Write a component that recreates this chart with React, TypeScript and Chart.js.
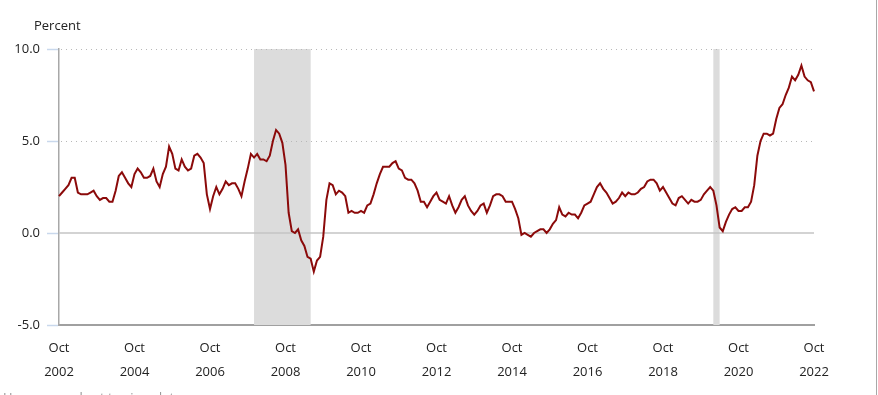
import React, { useEffect, useRef } from "react";
import { Chart, registerables } from "chart.js";

Chart.register(...registerables);

// Monthly 12-month percent change, Oct 2002 .. Oct 2022
const startYear = 2002;
const startMonth = 10;

const values2002 = [2.0, 2.2, 2.4]; // Oct-Dec
const values2003 = [2.6, 3.0, 3.0, 2.2, 2.1, 2.1, 2.1, 2.2, 2.3, 2.0, 1.8, 1.9];
const values2004 = [1.9, 1.7, 1.7, 2.3, 3.1, 3.3, 3.0, 2.7, 2.5, 3.2, 3.5, 3.3];
const values2005 = [3.0, 3.0, 3.1, 3.5, 2.8, 2.5, 3.2, 3.6, 4.7, 4.3, 3.5, 3.4];
const values2006 = [4.0, 3.6, 3.4, 3.5, 4.2, 4.3, 4.1, 3.8, 2.1, 1.3, 2.0, 2.5];
const values2007 = [2.1, 2.4, 2.8, 2.6, 2.7, 2.7, 2.4, 2.0, 2.8, 3.5, 4.3, 4.1];
const values2008 = [4.3, 4.0, 4.0, 3.9, 4.2, 5.0, 5.6, 5.4, 4.9, 3.7, 1.1, 0.1];
const values2009 = [0.0, 0.2, -0.4, -0.7, -1.3, -1.4, -2.1, -1.5, -1.3, -0.2, 1.8, 2.7];
const values2010 = [2.6, 2.1, 2.3, 2.2, 2.0, 1.1, 1.2, 1.1, 1.1, 1.2, 1.1, 1.5];
const values2011 = [1.6, 2.1, 2.7, 3.2, 3.6, 3.6, 3.6, 3.8, 3.9, 3.5, 3.4, 3.0];
const values2012 = [2.9, 2.9, 2.7, 2.3, 1.7, 1.7, 1.4, 1.7, 2.0, 2.2, 1.8, 1.7];
const values2013 = [1.6, 2.0, 1.5, 1.1, 1.4, 1.8, 2.0, 1.5, 1.2, 1.0, 1.2, 1.5];
const values2014 = [1.6, 1.1, 1.5, 2.0, 2.1, 2.1, 2.0, 1.7, 1.7, 1.7, 1.3, 0.8];
const values2015 = [-0.1, 0.0, -0.1, -0.2, 0.0, 0.1, 0.2, 0.2, 0.0, 0.2, 0.5, 0.7];
const values2016 = [1.4, 1.0, 0.9, 1.1, 1.0, 1.0, 0.8, 1.1, 1.5, 1.6, 1.7, 2.1];
const values2017 = [2.5, 2.7, 2.4, 2.2, 1.9, 1.6, 1.7, 1.9, 2.2, 2.0, 2.2, 2.1];
const values2018 = [2.1, 2.2, 2.4, 2.5, 2.8, 2.9, 2.9, 2.7, 2.3, 2.5, 2.2, 1.9];
const values2019 = [1.6, 1.5, 1.9, 2.0, 1.8, 1.6, 1.8, 1.7, 1.7, 1.8, 2.1, 2.3];
const values2020 = [2.5, 2.3, 1.5, 0.3, 0.1, 0.6, 1.0, 1.3, 1.4, 1.2, 1.2, 1.4];
const values2021 = [1.4, 1.7, 2.6, 4.2, 5.0, 5.4, 5.4, 5.3, 5.4, 6.2, 6.8, 7.0];
const values2022 = [7.5, 7.9, 8.5, 8.3, 8.6, 9.1, 8.5, 8.3, 8.2, 7.7]; // Jan-Oct

const seriesValues: number[] = [
  ...values2002, ...values2003, ...values2004, ...values2005, ...values2006,
  ...values2007, ...values2008, ...values2009, ...values2010, ...values2011,
  ...values2012, ...values2013, ...values2014, ...values2015, ...values2016,
  ...values2017, ...values2018, ...values2019, ...values2020, ...values2021,
  ...values2022,
];

const monthNames = ["Jan", "Feb", "Mar", "Apr", "May", "Jun", "Jul", "Aug", "Sep", "Oct", "Nov", "Dec"];

const categories: string[] = seriesValues.map((_, i) => {
  const m0 = startMonth - 1 + i;
  const y = startYear + Math.floor(m0 / 12);
  const m = (m0 % 12) + 1;
  return `${y}-${String(m).padStart(2, "0")}`;
});

const recessionStarts = ["2007-12", "2020-02"];
const recessionEnds = ["2009-06", "2020-04"];

const yTicks = [-5, 0, 5, 10];
const dottedGridValues = [5, 10];
const solidGridValues = [0];

const FONT = "'Open Sans', 'Noto Sans', sans-serif";

const decorPlugin = {
  id: "decor",
  beforeDatasetsDraw(chart: any) {
    const { ctx, chartArea, scales } = chart;
    const xs = scales.x;
    const ys = scales.y;
    ctx.save();
    // recession shading
    ctx.fillStyle = "#dcdcdc";
    recessionStarts.forEach((s, i) => {
      const x1 = xs.getPixelForValue(categories.indexOf(s));
      const x2 = xs.getPixelForValue(categories.indexOf(recessionEnds[i]));
      ctx.fillRect(x1, chartArea.top, x2 - x1, chartArea.bottom - chartArea.top);
    });
    // dotted grid lines
    ctx.strokeStyle = "#b8b8b8";
    ctx.lineWidth = 1;
    ctx.setLineDash([1, 4]);
    dottedGridValues.forEach((v) => {
      const y = Math.round(ys.getPixelForValue(v)) + 0.5;
      ctx.beginPath();
      ctx.moveTo(chartArea.left + 2, y);
      ctx.lineTo(chartArea.right, y);
      ctx.stroke();
    });
    ctx.setLineDash([]);
    ctx.strokeStyle = "#c4c4c4";
    ctx.lineWidth = 1.5;
    solidGridValues.forEach((v) => {
      const y = ys.getPixelForValue(v);
      ctx.beginPath();
      ctx.moveTo(chartArea.left, y);
      ctx.lineTo(chartArea.right, y);
      ctx.stroke();
    });
    ctx.restore();
  },
  afterDraw(chart: any) {
    const { ctx } = chart;
    ctx.save();
    ctx.fillStyle = "#222";
    ctx.font = `13px ${FONT}`;
    ctx.textAlign = "left";
    ctx.textBaseline = "middle";
    ctx.fillText("Percent", 34, 26);
    ctx.restore();
  },
};

export default function App() {
  const canvasRef = useRef<HTMLCanvasElement | null>(null);

  useEffect(() => {
    if (!canvasRef.current) return;
    const chart = new Chart(canvasRef.current, {
      type: "line",
      data: {
        labels: categories,
        datasets: [
          {
            data: seriesValues,
            borderColor: "#8b0a0a",
            borderWidth: 2,
            pointRadius: 0,
            tension: 0,
            fill: false,
          },
        ],
      },
      options: {
        animation: false,
        responsive: false,
        devicePixelRatio: 1,
        layout: { padding: { left: 0, right: 64, top: 49, bottom: 0 } },
        plugins: { legend: { display: false }, tooltip: { enabled: false } },
        scales: {
          x: {
            type: "category",
            offset: false,
            grid: { display: false, drawTicks: false },
            border: { display: true, color: "#a0a0a0", width: 2 },
            afterFit: (s: any) => {
              s.height = 70;
            },
            ticks: {
              autoSkip: false,
              maxRotation: 0,
              minRotation: 0,
              padding: 11,
              color: "#222",
              font: { family: FONT, size: 13, lineHeight: 1.85 },
              callback: (_v: any, idx: number) => {
                if (idx % 24 !== 0) return null;
                const lab = categories[idx];
                const m = parseInt(lab.slice(5), 10);
                return [monthNames[m - 1], lab.slice(0, 4)];
              },
            },
          },
          y: {
            min: -5,
            max: 10,
            afterFit: (s: any) => {
              s.width = 59;
            },
            afterBuildTicks: (s: any) => {
              s.ticks = yTicks.map((v) => ({ value: v }));
            },
            grid: {
              drawOnChartArea: false,
              drawTicks: true,
              tickLength: 12,
              tickColor: "#c9d8ec",
              tickWidth: 1.5,
            },
            border: { display: true, color: "#a8a8a8", width: 1.5 },
            ticks: {
              padding: 7,
              color: "#222",
              font: { family: FONT, size: 13 },
              callback: (v: any) => Number(v).toFixed(1),
            },
          },
        },
      },
      plugins: [decorPlugin],
    });
    return () => chart.destroy();
  }, []);

  return (
    <div
      style={{
        position: "fixed",
        left: 0,
        top: 0,
        width: 878,
        height: 395,
        overflow: "hidden",
        background: "#fff",
      }}
    >
      <canvas ref={canvasRef} width={878} height={395} style={{ display: "block" }} />
      <div
        style={{
          position: "absolute",
          left: 876,
          top: 0,
          width: 1,
          height: 395,
          background: "#a8a8a8",
        }}
      />
      <div
        style={{
          position: "absolute",
          left: 3,
          top: 388,
          fontFamily: FONT,
          fontSize: 13,
          color: "#999",
          whiteSpace: "nowrap",
        }}
      >
        Hover over chart to view data
      </div>
    </div>
  );
}
